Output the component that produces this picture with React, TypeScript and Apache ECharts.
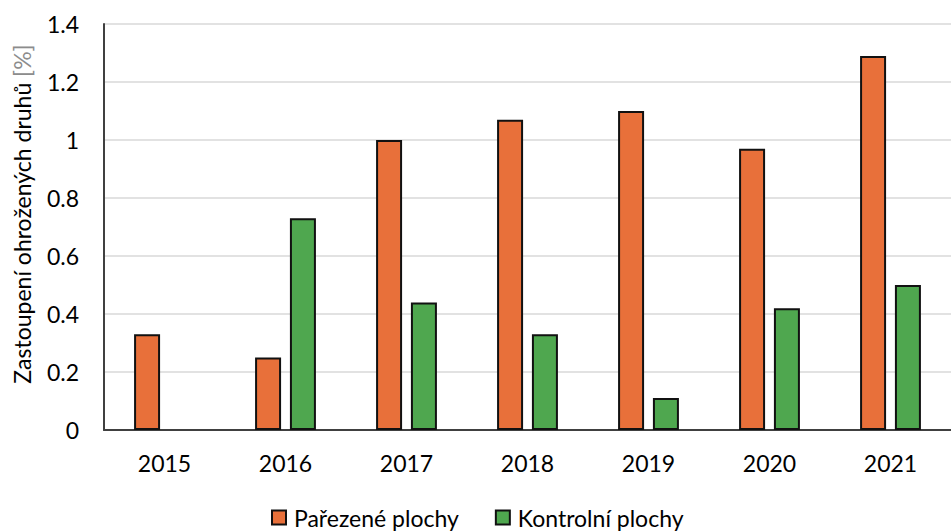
import React, { useEffect, useRef } from "react";
import * as echarts from "echarts";

const categories = ["2015", "2016", "2017", "2018", "2019", "2020", "2021"];
const parezene = [0.33, 0.25, 1.0, 1.07, 1.1, 0.97, 1.29];
const kontrolni = [null, 0.73, 0.44, 0.33, 0.11, 0.42, 0.5];
const seriesNames = ["Pařezené plochy", "Kontrolní plochy"];
const yTicks = { min: 0, max: 1.4, interval: 0.2 };

const FONT = "Lato, 'Open Sans', sans-serif";

export default function App() {
  const ref = useRef<HTMLDivElement>(null);
  useEffect(() => {
    if (!ref.current) return;
    const chart = echarts.init(ref.current, null, { renderer: "svg" });
    chart.setOption({
      animation: false,
      backgroundColor: "#ffffff",
      textStyle: { fontFamily: FONT },
      grid: { left: 104, top: 24, width: 859, height: 406 },
      legend: {
        left: 271,
        top: 506,
        padding: 0,
        itemWidth: 14,
        itemHeight: 14,
        itemGap: 36,
        icon: "rect",
        textStyle: { fontSize: 23, lineHeight: 23, color: "#000", fontFamily: FONT, padding: [0, 0, 0, 3] },
        data: seriesNames,
      },
      xAxis: {
        type: "category",
        data: categories,
        axisLine: { show: true, lineStyle: { color: "#404040", width: 2 } },
        axisTick: { show: false },
        axisLabel: { fontSize: 23, lineHeight: 23, color: "#000", margin: 21, fontFamily: FONT },
      },
      yAxis: {
        type: "value",
        min: yTicks.min,
        max: yTicks.max,
        interval: yTicks.interval,
        name: "Zastoupení ohrožených druhů {g|[%]}",
        nameLocation: "middle",
        nameGap: 71,
        nameTextStyle: {
          fontSize: 23,
          lineHeight: 23,
          color: "#000",
          fontFamily: FONT,
          padding: [0, 0, 0, 26],
          rich: { g: { color: "#8c8c8c", fontSize: 23, fontFamily: FONT } },
        },
        axisLine: { show: true, lineStyle: { color: "#404040", width: 2 } },
        axisTick: { show: false },
        axisLabel: {
          fontSize: 23,
          color: "#000",
          margin: 25,
          fontFamily: FONT,
          formatter: (v: number) => String(Math.round(v * 10) / 10),
        },
        splitLine: { show: true, lineStyle: { color: "#d9d9d9", width: 1.5 } },
      },
      series: [
        {
          name: seriesNames[0],
          type: "bar",
          data: parezene,
          barWidth: 26,
          barGap: "34%",
          itemStyle: { color: "#E8703A", borderColor: "#111", borderWidth: 2 },
        },
        {
          name: seriesNames[1],
          type: "bar",
          data: kontrolni,
          barWidth: 26,
          barGap: "34%",
          itemStyle: { color: "#4FA74F", borderColor: "#111", borderWidth: 2 },
        },
      ],
    });
    return () => chart.dispose();
  }, []);
  return (
    <div
      ref={ref}
      style={{ position: "fixed", left: 0, top: 0, width: 951, height: 532 }}
    />
  );
}
